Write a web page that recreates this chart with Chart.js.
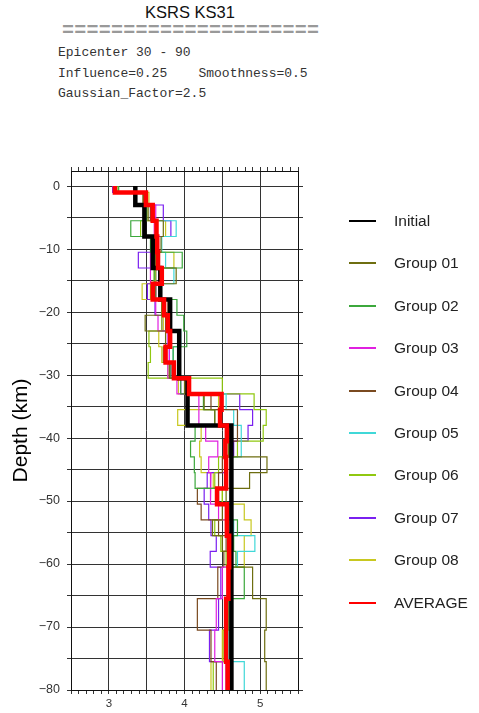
<!DOCTYPE html>
<html>
<head>
<meta charset="utf-8">
<title>KSRS KS31</title>
<script src="https://cdn.jsdelivr.net/npm/chart.js@4/dist/chart.umd.min.js"></script>
<style>
    body { margin: 0; background: #fff; width: 479px; height: 713px; position: relative; overflow: hidden; font-family: Arial, "Liberation Sans", sans-serif; }
    #depthChart { position: absolute; left: 0; top: 0; }
    .title { position: absolute; left: 0; top: 3px; width: 380px; text-align: center; font-size: 16.5px; color: #111; }
    .dashes { position: absolute; left: 62px; top: 21px; font-family: "Liberation Mono", "Courier New", monospace; font-size: 20px; font-weight: bold; letter-spacing: 0.25px; line-height: 20px; color: #999; }
    .params { position: absolute; left: 58px; top: 43px; font-family: "Liberation Mono", "Courier New", monospace; font-size: 13px; line-height: 20.5px; color: #333; white-space: pre; }
    .legend-item { position: absolute; left: 349px; height: 18px; font-size: 15.5px; line-height: 18px; color: #222; white-space: nowrap; }
    .legend-item .swatch { position: absolute; left: 0; top: 8px; width: 27px; height: 2px; }
    .legend-item .label { position: absolute; left: 45px; top: 0; }
</style>
</head>
<body>
<div class="title">KSRS KS31</div>
<div class="dashes">=====================</div>
<div class="params">Epicenter 30 - 90
Influence=0.25    Smoothness=0.5
Gaussian_Factor=2.5</div>
<canvas id="depthChart" width="479" height="713"></canvas>
<div id="legend"></div>

<script>
// layer boundaries (km) shared by the inverted groups and the average
const layerDepths = [0, 1, 3, 5.5, 8, 10.5, 13, 15.5, 18, 20.5, 23, 25.5, 28, 30.5, 33, 35.5, 38,
    40.5, 43, 45.5, 48, 50.5, 53, 55.5, 58, 60.5, 63, 65.5, 68, 70.5, 73, 75.5, 80];

// initial model has its own, coarser layers
const initialDepths = [0, 3, 8, 13, 18, 23, 30.5, 38, 80];
const initialVs = [3.35, 3.47, 3.58, 3.68, 3.81, 3.93, 4.04, 4.62];

const group01 = [3.10, 3.45, 3.52, 3.72, 3.69, 3.62, 3.89, 3.62, 3.70, 3.48, 3.75, 3.72, 3.80, 4.00, 4.26, 4.40,
    4.60, 4.58, 5.09, 4.86, 4.55, 4.50, 4.37, 4.50, 4.62, 4.90, 4.90, 5.08, 5.08, 5.06, 5.06, 5.08];
const group02 = [3.13, 3.47, 3.50, 3.29, 3.55, 3.97, 3.60, 3.58, 3.90, 3.99, 4.03, 3.85, 3.82, 3.95, 4.25, 4.40,
    4.14, 4.08, 4.13, 4.14, 4.45, 4.60, 4.70, 4.65, 4.68, 4.79, 4.79, 4.58, 4.58, 4.60, 4.60, 4.58];
const group03 = [3.08, 3.48, 3.62, 3.60, 3.58, 3.55, 3.55, 3.62, 3.62, 3.65, 3.78, 3.80, 3.78, 3.90, 4.19, 4.19,
    4.28, 4.44, 4.32, 4.35, 4.34, 4.45, 4.55, 4.60, 4.58, 4.50, 4.50, 4.42, 4.42, 4.40, 4.40, 4.50];
const group04 = [3.10, 3.46, 3.55, 3.62, 3.60, 3.62, 3.72, 3.60, 3.78, 3.75, 3.82, 3.75, 3.85, 4.02, 4.35, 4.70,
    4.70, 4.60, 4.50, 4.45, 4.17, 4.22, 4.45, 4.55, 4.52, 4.44, 4.44, 4.17, 4.17, 4.35, 4.35, 4.42];
const group05 = [3.10, 3.50, 3.55, 3.89, 3.70, 3.75, 3.86, 3.62, 3.80, 3.82, 3.95, 3.85, 3.88, 4.05, 4.55, 4.65,
    4.75, 4.75, 4.62, 4.60, 4.62, 4.58, 4.65, 4.93, 4.70, 4.62, 4.62, 4.60, 4.60, 4.58, 4.58, 4.79];
const group06 = [3.12, 3.48, 3.50, 3.42, 3.60, 3.65, 3.62, 3.55, 3.72, 3.70, 3.53, 3.55, 3.52, 4.50, 4.92, 5.08,
    5.04, 4.70, 4.45, 4.40, 4.50, 4.55, 4.40, 4.48, 4.55, 4.60, 4.60, 4.62, 4.62, 4.52, 4.52, 4.38];
const group07 = [3.05, 3.46, 3.72, 3.82, 3.65, 3.39, 3.62, 3.51, 3.61, 3.70, 3.75, 3.80, 3.82, 3.95, 4.73, 4.90,
    4.84, 4.65, 4.55, 4.30, 4.26, 4.32, 4.35, 4.42, 4.34, 4.48, 4.48, 4.45, 4.45, 4.33, 4.33, 4.55];
const group08 = [3.10, 3.53, 3.50, 3.75, 3.65, 3.86, 3.60, 3.44, 3.70, 3.72, 3.66, 3.70, 3.78, 3.92, 4.45, 3.91,
    4.22, 4.20, 4.22, 4.38, 4.50, 4.79, 4.88, 4.79, 4.79, 4.60, 4.60, 4.62, 4.62, 4.50, 4.50, 4.35];
const average = [3.08, 3.49, 3.58, 3.63, 3.64, 3.65, 3.70, 3.58, 3.73, 3.78, 3.81, 3.75, 3.86, 4.06, 4.49, 4.47,
    4.56, 4.54, 4.55, 4.55, 4.43, 4.56, 4.56, 4.59, 4.59, 4.58, 4.58, 4.55, 4.55, 4.55, 4.55, 4.57];

const seriesNames = ['Initial', 'Group 01', 'Group 02', 'Group 03', 'Group 04', 'Group 05', 'Group 06', 'Group 07', 'Group 08', 'AVERAGE'];
const seriesColors = ['#000000', '#6e6e10', '#3ca83c', '#e020e0', '#7a4a20', '#40d8d8', '#90c810', '#7a20f0', '#c8c820', '#ff0000'];

const xTickLabels = [3, 4, 5];

// turn layer velocities into a staircase of points
function stepPoints(depths, vs) {
    const pts = [];
    vs.forEach((v, i) => {
        pts.push({ x: v, y: -depths[i] });
        pts.push({ x: v, y: -depths[i + 1] });
    });
    return pts;
}

function isHalf(v) {
    return Math.abs(v * 2 - Math.round(v * 2)) < 1e-6;
}

const groups = [group01, group02, group03, group04, group05, group06, group07, group08];

const datasets = [];
groups.forEach((g, i) => {
    datasets.push({
        label: seriesNames[i + 1],
        data: stepPoints(layerDepths, g),
        borderColor: seriesColors[i + 1],
        borderWidth: 1.2,
        order: 2
    });
});
datasets.push({
    label: seriesNames[0],
    data: stepPoints(initialDepths, initialVs),
    borderColor: seriesColors[0],
    borderWidth: 4.5,
    order: 1
});
datasets.push({
    label: seriesNames[9],
    data: stepPoints(layerDepths, average),
    borderColor: seriesColors[9],
    borderWidth: 4.5,
    order: 0
});
datasets.forEach(d => {
    d.showLine = true;
    d.pointRadius = 0;
    d.fill = false;
    d.tension = 0;
});

const gridColor = '#333';
const tickFont = { family: 'Arial, "Liberation Sans", sans-serif', size: 12.5 };

new Chart(document.getElementById('depthChart'), {
    type: 'scatter',
    data: { datasets: datasets },
    options: {
        responsive: false,
        animation: false,
        layout: { padding: { top: 167, left: 0, right: 176, bottom: 0 } },
        plugins: {
            legend: { display: false },
            tooltip: { enabled: false }
        },
        scales: {
            x: {
                type: 'linear',
                position: 'bottom',
                min: 2.5,
                max: 5.5,
                ticks: {
                    stepSize: 0.1,
                    autoSkip: false,
                    maxRotation: 0,
                    padding: 3,
                    color: '#333',
                    font: { family: tickFont.family, size: 11.5 },
                    callback: v => xTickLabels.find(t => Math.abs(t - v) < 1e-6) ?? ''
                },
                grid: {
                    color: ctx => isHalf(ctx.tick.value) ? gridColor : 'rgba(0,0,0,0)',
                    tickColor: gridColor,
                    tickLength: 4
                },
                border: { display: true, color: '#111' },
                afterFit: s => { s.height = 23; }
            },
            x2: {
                type: 'linear',
                position: 'top',
                min: 2.5,
                max: 5.5,
                ticks: { stepSize: 0.1, autoSkip: false, display: false },
                grid: { drawOnChartArea: false, tickColor: gridColor, tickLength: 4 },
                border: { display: true, color: '#111' },
                afterFit: s => { s.height = 4; }
            },
            y: {
                type: 'linear',
                min: -80,
                max: 2.4,
                ticks: {
                    stepSize: 5,
                    autoSkip: false,
                    padding: 7,
                    color: '#333',
                    font: tickFont,
                    callback: v => (v % 10 === 0 ? (v < 0 ? '\u2212' + (-v) : '0') : '')
                },
                grid: {
                    color: ctx => (ctx.tick.value % 5 === 0 ? gridColor : 'rgba(0,0,0,0)'),
                    tickColor: ctx => (ctx.tick.value % 5 === 0 ? gridColor : 'rgba(0,0,0,0)'),
                    tickLength: 4
                },
                border: { display: true, color: '#111' },
                title: {
                    display: true,
                    text: 'Depth (km)',
                    color: '#000',
                    font: { family: tickFont.family, size: 21 },
                    padding: { top: 9, bottom: 0 }
                },
                afterFit: s => { s.width = 71; }
            },
            y2: {
                type: 'linear',
                position: 'right',
                min: -80,
                max: 2.4,
                ticks: { stepSize: 5, autoSkip: false, display: false },
                grid: {
                    drawOnChartArea: false,
                    tickColor: ctx => (ctx.tick.value % 5 === 0 ? gridColor : 'rgba(0,0,0,0)'),
                    tickLength: 5
                },
                border: { display: true, color: '#111' },
                afterFit: s => { s.width = 5; }
            }
        }
    }
});

// legend on the right, one row per series
const legend = document.getElementById('legend');
seriesNames.forEach((name, i) => {
    const item = document.createElement('div');
    item.className = 'legend-item';
    item.style.top = (221 + i * 42.4 - 9) + 'px';
    item.innerHTML = '<span class="swatch" style="background:' + seriesColors[i] + '"></span><span class="label">' + name + '</span>';
    legend.appendChild(item);
});
</script>
</body>
</html>
